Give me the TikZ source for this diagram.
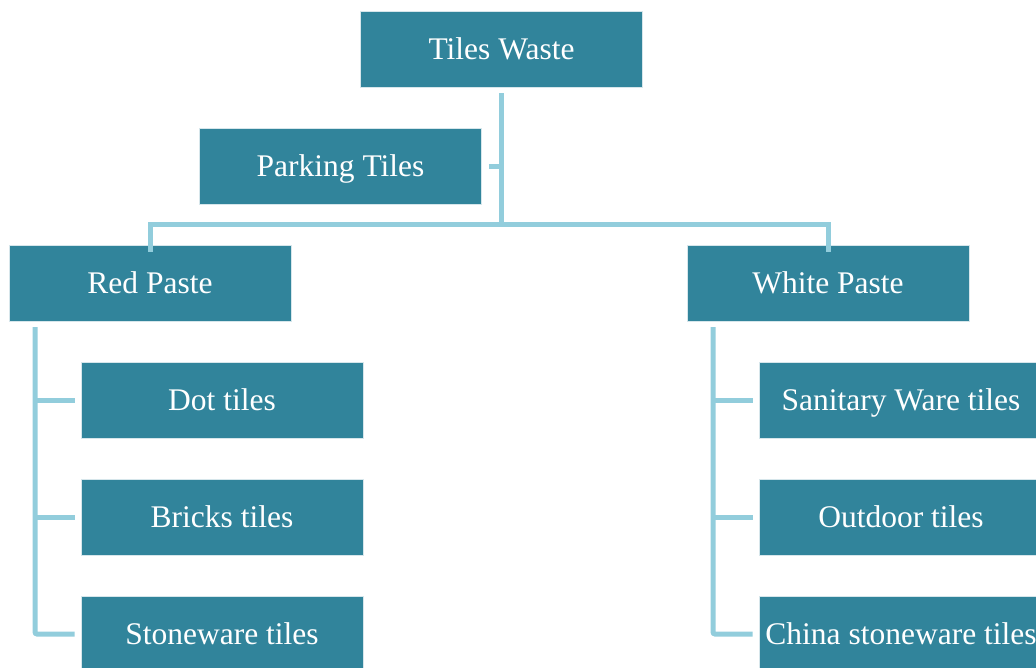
\documentclass[tikz,border=0pt]{standalone}
\usepackage{fontspec}
\setmainfont{Liberation Serif}
\definecolor{boxfill}{HTML}{31849B}
\definecolor{conncol}{HTML}{92CDDC}
\begin{document}
\begin{tikzpicture}[x=1pt,y=-1pt,
  box/.style={fill=boxfill,draw=white!80!boxfill,line width=0.6pt,minimum width=282pt,minimum height=76pt,inner sep=0pt,text=white,text height=23pt,text depth=3pt,font=\fontsize{31.5}{35}\selectfont},
  conn/.style={draw=conncol,line width=5pt}]
\useasboundingbox (0,0) rectangle (1036,667);
\clip (0,0) rectangle (1036,667);
\node[box] (tw) at (501.5,49) {Tiles Waste};
\node[box] (pt) at (340.5,166) {Parking Tiles};
\node[box] (rp) at (150,283) {Red Paste};
\node[box] (wp) at (828,283) {White Paste};
\node[box] (dt) at (222,400) {Dot tiles};
\node[box] (bt) at (222,517) {Bricks tiles};
\node[box] (st) at (222,634) {Stoneware tiles};
\node[box,minimum width=284pt] (sw) at (901,400) {Sanitary Ware tiles};
\node[box,minimum width=284pt] (ot) at (901,517) {Outdoor tiles};
\node[box,minimum width=284pt] (cs) at (901,634) {China stoneware tiles};
% top trunk
\coordinate (jt) at (tw.south |- 0,224);
\draw[conn] ([yshift=-6pt]tw.south) -- (jt);
\draw[conn] ([xshift=7pt]pt.east) -- (pt.east -| tw.south);
\draw[conn] ([yshift=-7pt]rp.north) -- (rp.north |- jt) -- (wp.north |- jt) -- ([yshift=-7pt]wp.north);
% left branch
\coordinate (lx) at (35,0);
\draw[conn,rounded corners=2pt] (lx |- 0,327) -- (lx |- st.west) -- ([xshift=-6pt]st.west);
\draw[conn] (lx |- dt.west) -- ([xshift=-6pt]dt.west);
\draw[conn] (lx |- bt.west) -- ([xshift=-6pt]bt.west);
% right branch
\coordinate (rx) at (713,0);
\draw[conn,rounded corners=2pt] (rx |- 0,327) -- (rx |- cs.west) -- ([xshift=-6pt]cs.west);
\draw[conn] (rx |- sw.west) -- ([xshift=-6pt]sw.west);
\draw[conn] (rx |- ot.west) -- ([xshift=-6pt]ot.west);
\end{tikzpicture}
\end{document}
